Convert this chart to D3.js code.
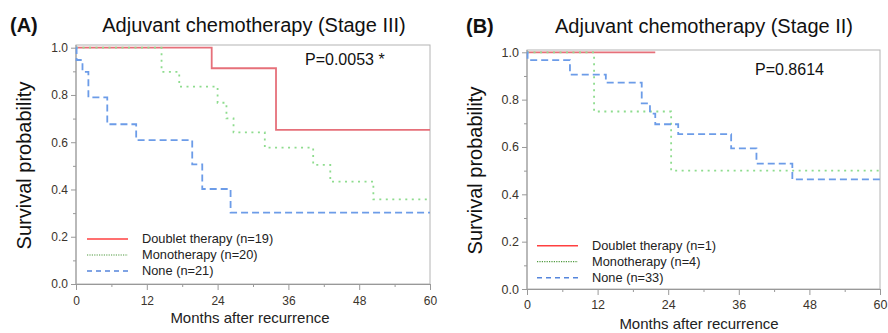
<!DOCTYPE html>
<html>
<head>
<meta charset="utf-8">
<script src="https://cdn.jsdelivr.net/npm/d3@7"></script>
<style>
  body { margin: 0; background: #fff; }
  text { font-family: "Liberation Sans", Arial, sans-serif; }
</style>
</head>
<body>
<div id="chart"></div>
<script>
// Kaplan-Meier step data (months, survival)
const monthTicks = [0, 12, 24, 36, 48, 60]
const probTicks = [0, 0.2, 0.4, 0.6, 0.8, 1.0]

// Panel A: Stage III
const aDoubletT = [0, 23.0, 33.9]
const aDoubletS = [1, 0.913, 0.652]
const aDoubletEnd = 60
const aMonoT = [0, 14.5, 17.5, 24.0, 25.5, 26.7, 32.0, 40.2, 43.1, 50.4]
const aMonoS = [1, 0.898, 0.835, 0.767, 0.701, 0.642, 0.577, 0.504, 0.433, 0.358]
const aMonoEnd = 60
const aNoneT = [0, 0.1, 1.1, 2.1, 5.3, 10.2, 19.7, 21.4, 26.2]
const aNoneS = [1, 0.948, 0.898, 0.790, 0.676, 0.609, 0.506, 0.402, 0.302]
const aNoneEnd = 60
const aLegend = ["Doublet therapy (n=19)", "Monotherapy (n=20)", "None (n=21)"]

// Panel B: Stage II
const bDoubletT = [0]
const bDoubletS = [1]
const bDoubletEnd = 21.8
const bMonoT = [0, 11.4, 24.5]
const bMonoS = [1, 0.75, 0.5]
const bMonoEnd = 60
const bNoneT = [0, 0.1, 7.3, 13.4, 19.5, 20.9, 21.8, 25.7, 34.7, 39.0, 45.1]
const bNoneS = [1, 0.967, 0.906, 0.872, 0.784, 0.741, 0.696, 0.654, 0.594, 0.530, 0.463]
const bNoneEnd = 60
const bLegend = ["Doublet therapy (n=1)", "Monotherapy (n=4)", "None (n=33)"]

const STYLE = [
	{ plot: "#e6707a", legend: "#ff4040", width: 1.8, dash: null, legendDash: null },
	{ plot: "#8edc8e", legend: "#4f9a3f", width: 1.8, dash: "2,4.5", legendDash: "1.2,1.2" },
	{ plot: "#6c9ce8", legend: "#5585dc", width: 1.8, dash: "7,4", legendDash: "5,4" }
]

const svg = d3.select("#chart").append("svg")
	.attr("width", 888)
	.attr("height", 333)

function toPoints(t, s, end) {
	const pts = t.map((d, i) => [d, s[i]])
	pts.push([end, s[s.length - 1]])
	return pts
}

function drawPanel(cfg) {
	const g = svg.append("g")

	const x = d3.scaleLinear().domain([0, 60]).range([cfg.left, cfg.right])
	const y = d3.scaleLinear().domain([0, 1]).range([cfg.bottom, cfg.y1])

	// frame
	g.append("rect")
		.attr("x", cfg.left).attr("y", cfg.top)
		.attr("width", cfg.right - cfg.left).attr("height", cfg.bottom - cfg.top)
		.attr("fill", "none").attr("stroke", "#b4b4b4").attr("stroke-width", 1)

	// minor ticks
	g.append("g")
		.attr("transform", `translate(${cfg.left},0)`)
		.call(d3.axisLeft(y).tickValues(d3.range(0.1, 1, 0.2)).tickSize(3).tickFormat(""))
		.call(a => a.select(".domain").remove())
		.call(a => a.selectAll("line").attr("stroke", "#999"))
	g.append("g")
		.attr("transform", `translate(0,${cfg.bottom})`)
		.call(d3.axisBottom(x).tickValues(d3.range(6, 60, 12)).tickSize(3).tickFormat(""))
		.call(a => a.select(".domain").remove())
		.call(a => a.selectAll("line").attr("stroke", "#999"))

	// major axes
	g.append("g")
		.attr("transform", `translate(${cfg.left},0)`)
		.call(d3.axisLeft(y).tickValues(probTicks).tickSize(5).tickPadding(3).tickFormat(d3.format(".1f")))
		.call(a => a.select(".domain").attr("stroke", "#999").attr("d", `M0,${cfg.bottom}V${cfg.top}`))
		.call(a => a.selectAll("line").attr("stroke", "#999"))
		.call(a => a.selectAll("text").attr("fill", "#3b342c").style("font-size", cfg.tickFont + "px"))

	g.append("g")
		.attr("transform", `translate(0,${cfg.bottom})`)
		.call(d3.axisBottom(x).tickValues(monthTicks).tickSize(6).tickPadding(cfg.xPad))
		.call(a => a.select(".domain").attr("stroke", "#999"))
		.call(a => a.selectAll("line").attr("stroke", "#999"))
		.call(a => a.selectAll("text").attr("fill", "#3b342c").style("font-size", cfg.tickFont + "px"))

	// curves
	const line = d3.line()
		.x(d => x(d[0]))
		.y(d => y(d[1]))
		.curve(d3.curveStepAfter)

	cfg.series.forEach((s, i) => {
		const st = STYLE[i]
		g.append("path")
			.datum(toPoints(s.t, s.s, s.end))
			.attr("d", line)
			.attr("fill", "none")
			.attr("stroke", st.plot)
			.attr("stroke-width", st.width)
			.attr("stroke-dasharray", st.dash)
	})

	// legend
	cfg.legend.forEach((label, i) => {
		const st = STYLE[i]
		const ly = cfg.legendY + i * 16
		g.append("line")
			.attr("x1", cfg.legendX).attr("x2", cfg.legendX + 41)
			.attr("y1", ly).attr("y2", ly)
			.attr("stroke", st.legend)
			.attr("stroke-width", i === 1 ? 1.2 : 1.6)
			.attr("stroke-dasharray", st.legendDash)
		g.append("text")
			.attr("x", cfg.legendX + 55).attr("y", ly)
			.attr("dy", "0.35em")
			.style("font-size", "12.8px")
			.attr("fill", "#222")
			.text(label)
	})

	// p value
	g.append("text")
		.attr("x", cfg.pX).attr("y", cfg.pY)
		.style("font-size", "16px")
		.attr("fill", "#111")
		.text(cfg.pText)

	// x title with white backing (clips the tick labels like the original)
	g.append("rect")
		.attr("x", cfg.left - 20).attr("y", cfg.titleBgY)
		.attr("width", cfg.right - cfg.left + 40).attr("height", 333 - cfg.titleBgY)
		.attr("fill", "#fff")
	g.append("text")
		.attr("x", cfg.xTitleX).attr("y", cfg.xTitleY)
		.attr("text-anchor", "middle")
		.style("font-size", "15px")
		.attr("fill", "#222")
		.text("Months after recurrence")

	// y title
	g.append("text")
		.attr("transform", `translate(${cfg.yTitleX},${(cfg.top + cfg.bottom) / 2 + 1}) rotate(-90)`)
		.attr("text-anchor", "middle")
		.style("font-size", "20px")
		.attr("fill", "#111")
		.text("Survival probability")

	// titles
	g.append("text")
		.attr("x", cfg.tagX).attr("y", cfg.titleY)
		.style("font-size", "20px")
		.style("font-weight", "bold")
		.attr("fill", "#111")
		.text(cfg.tag)
	g.append("text")
		.attr("x", cfg.titleX).attr("y", cfg.titleY)
		.attr("text-anchor", "middle")
		.style("font-size", "20px")
		.attr("fill", "#111")
		.text(cfg.title)
}

drawPanel({
	left: 76, right: 430, top: 45, y1: 47.7, bottom: 284,
	tickFont: 12, xPad: 6,
	series: [
		{ t: aDoubletT, s: aDoubletS, end: aDoubletEnd },
		{ t: aMonoT, s: aMonoS, end: aMonoEnd },
		{ t: aNoneT, s: aNoneS, end: aNoneEnd }
	],
	legend: aLegend, legendX: 87, legendY: 239,
	pText: "P=0.0053 *", pX: 305, pY: 65,
	titleBgY: 305, xTitleX: 250, xTitleY: 323,
	yTitleX: 31,
	tag: "(A)", tagX: 10, title: "Adjuvant chemotherapy (Stage III)", titleX: 254, titleY: 32
})

drawPanel({
	left: 527, right: 880, top: 50, y1: 52.3, bottom: 289,
	tickFont: 12.5, xPad: 5,
	series: [
		{ t: bDoubletT, s: bDoubletS, end: bDoubletEnd },
		{ t: bMonoT, s: bMonoS, end: bMonoEnd },
		{ t: bNoneT, s: bNoneS, end: bNoneEnd }
	],
	legend: bLegend, legendX: 537, legendY: 245.7,
	pText: "P=0.8614", pX: 755, pY: 75,
	titleBgY: 316, xTitleX: 699, xTitleY: 329,
	yTitleX: 482,
	tag: "(B)", tagX: 466, title: "Adjuvant chemotherapy (Stage II)", titleX: 704, titleY: 33
})
</script>
</body>
</html>
